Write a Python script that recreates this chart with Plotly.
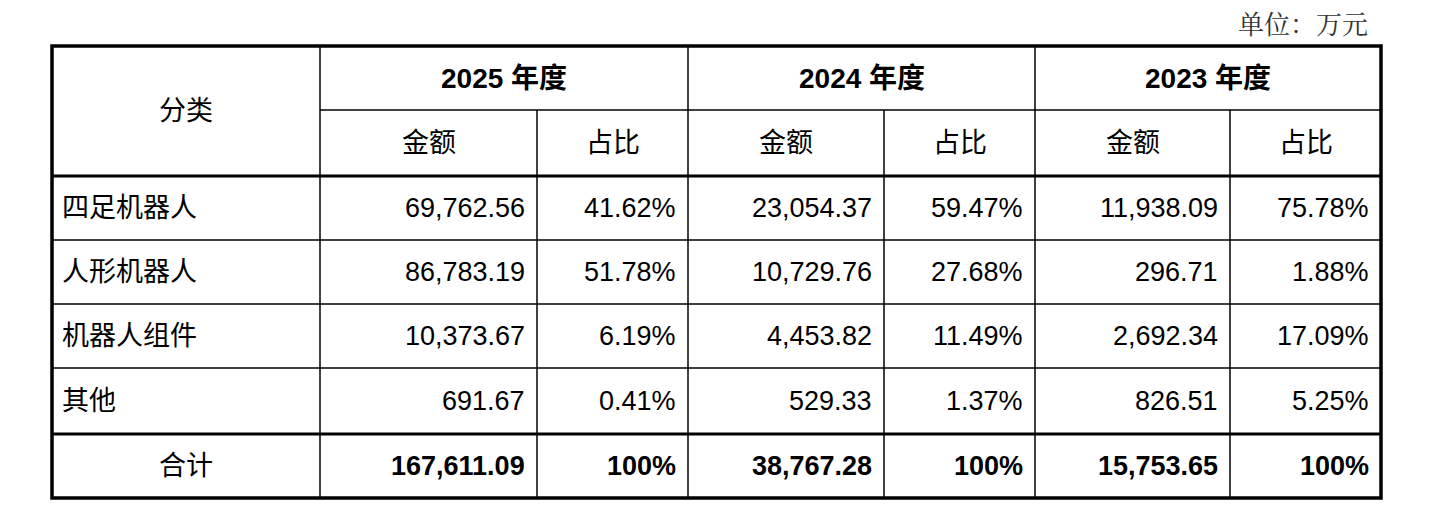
import plotly.graph_objects as go

years = ["2025 年度", "2024 年度", "2023 年度"]
sub_headers = ["金额", "占比"]
categories = ["四足机器人", "人形机器人", "机器人组件", "其他"]
amount_2025 = ["69,762.56", "86,783.19", "10,373.67", "691.67"]
share_2025 = ["41.62%", "51.78%", "6.19%", "0.41%"]
amount_2024 = ["23,054.37", "10,729.76", "4,453.82", "529.33"]
share_2024 = ["59.47%", "27.68%", "11.49%", "1.37%"]
amount_2023 = ["11,938.09", "296.71", "2,692.34", "826.51"]
share_2023 = ["75.78%", "1.88%", "17.09%", "5.25%"]
total_label = "合计"
totals = ["167,611.09", "100%", "38,767.28", "100%", "15,753.65", "100%"]
unit_text = "单位：万元"

# layout geometry (pixels in the screenshot)
col_x = [52, 320, 537, 688, 884, 1035, 1230, 1381]
row_y = [46, 110, 176, 240, 304, 368, 434, 498]
PAGE_OFFSET = 8  # body margin of the page

FONT = "Liberation Sans, Noto Sans CJK SC, sans-serif"
SZ = 27

fig = go.Figure()
shapes = []
ann = []

def hline(x0, x1, y, w):
    shapes.append(dict(type="line", x0=x0, x1=x1, y0=y, y1=y, line=dict(color="black", width=w)))

def vline(x, y0, y1, w):
    shapes.append(dict(type="line", x0=x, x1=x, y0=y0, y1=y1, line=dict(color="black", width=w)))

def text(x, y, s, anchor="center", bold=False, size=SZ):
    ann.append(dict(x=x, y=y, text=f"<b>{s}</b>" if bold else s, showarrow=False,
                    xanchor=anchor, yanchor="middle",
                    font=dict(family=FONT, size=size, color="black")))

# grid
hline(col_x[1], col_x[-1], row_y[1], 1.5)
hline(col_x[0], col_x[-1], row_y[2], 3)
for y in row_y[3:6]:
    hline(col_x[0], col_x[-1], y, 1.5)
hline(col_x[0], col_x[-1], row_y[6], 3)
for i, x in enumerate(col_x[1:-1], start=1):
    if i % 2 == 1:
        vline(x, row_y[0], row_y[-1], 1.5)
    else:
        vline(x, row_y[1], row_y[-1], 1.5)
shapes.append(dict(type="rect", x0=col_x[0], x1=col_x[-1], y0=row_y[0], y1=row_y[-1],
                   line=dict(color="black", width=3.5)))

# header
text((col_x[0] + col_x[1]) / 2, (row_y[0] + row_y[2]) / 2, "分类")
for k, yr in enumerate(years):
    text((col_x[1 + 2 * k] + col_x[3 + 2 * k]) / 2, (row_y[0] + row_y[1]) / 2, yr, bold=True, size=28)
    for j, sh in enumerate(sub_headers):
        c = 1 + 2 * k + j
        text((col_x[c] + col_x[c + 1]) / 2, (row_y[1] + row_y[2]) / 2, sh)

# body
cols = [amount_2025, share_2025, amount_2024, share_2024, amount_2023, share_2023]
for r, cat in enumerate(categories):
    yc = (row_y[2 + r] + row_y[3 + r]) / 2
    text(col_x[0] + 8, yc, cat, anchor="left")
    for c, vals in enumerate(cols):
        text(col_x[c + 2] - 10, yc, vals[r], anchor="right")

yc = (row_y[6] + row_y[7]) / 2
text((col_x[0] + col_x[1]) / 2, yc, total_label)
for c, v in enumerate(totals):
    text(col_x[c + 2] - 10, yc, v, anchor="right", bold=True)

ann.append(dict(x=1370, y=22, text=unit_text, showarrow=False, xanchor="right", yanchor="middle",
                font=dict(family="Noto Serif CJK SC, Noto Sans CJK SC, serif", size=26, color="#333")))

fig.update_layout(
    width=1440, height=524, margin=dict(l=0, r=0, t=0, b=0),
    plot_bgcolor="white", paper_bgcolor="white",
    shapes=shapes, annotations=ann,
    xaxis=dict(range=[PAGE_OFFSET, 1440 + PAGE_OFFSET], visible=False, fixedrange=True),
    yaxis=dict(range=[524 + PAGE_OFFSET, PAGE_OFFSET], visible=False, fixedrange=True),
)
fig.write_html("out.html")
